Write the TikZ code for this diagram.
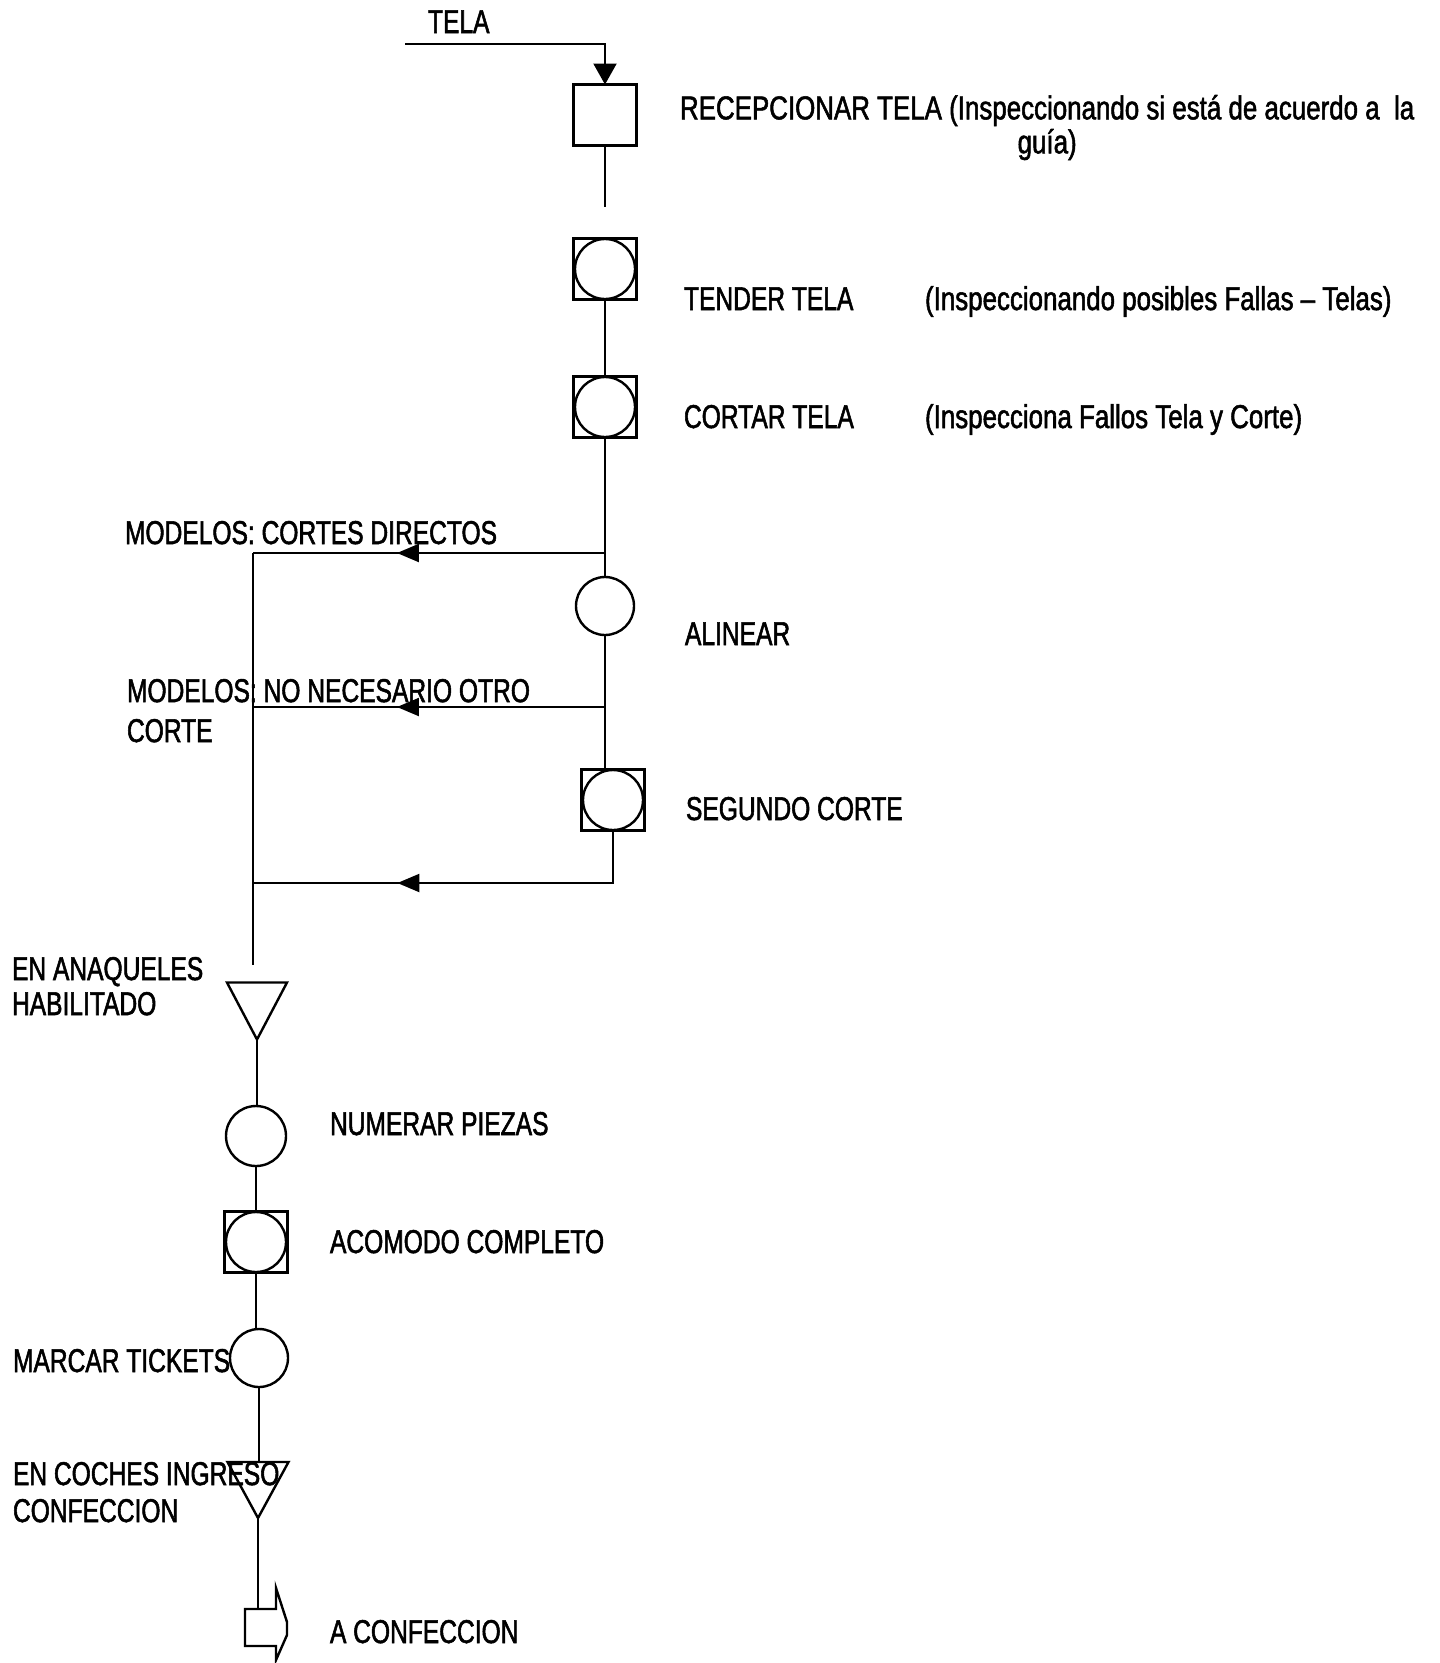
\documentclass[tikz,border=0pt]{standalone}
\usepackage{fontspec}
\setmainfont[FakeStretch=0.745, FakeBold=1.6]{Liberation Sans}
\newfontfamily\lcfont[Ligatures=TeX, FakeStretch=0.785, FakeBold=1.6]{Liberation Sans}
\usetikzlibrary{arrows.meta,decorations.markings}
\begin{document}
\begin{tikzpicture}[x=1pt,y=-1pt,
  lbl/.style={inner sep=0pt, outer sep=0pt, font=\fontsize{33}{35}\selectfont, anchor=base west},
  lclbl/.style={lbl, font=\lcfont\fontsize{33}{35}\selectfont},
  mlbl/.style={inner sep=0pt, outer sep=0pt, anchor=north west, font=\fontsize{33}{#1}\selectfont},
  opbox/.style={draw, line width=2.4pt, minimum width=63pt, minimum height=61pt, inner sep=0pt, outer sep=0pt},
  opinsp/.style={opbox, path picture={\draw[line width=2.4pt] (path picture bounding box.center) circle[radius=30pt];}},
  opcirc/.style={draw, circle, line width=2.4pt, minimum size=#1, inner sep=0pt, outer sep=0pt},
  trinode/.style={inner sep=0pt, outer sep=0pt, minimum width=60pt, minimum height=57pt},
  shp/.style={line width=2.4pt, line join=miter},
  conn/.style={line width=2.2pt},
  midarrow/.style={postaction={decorate}, decoration={markings, mark=at position #1 with {\arrow{Triangle[length=22pt,width=18pt]}}}}
]
\useasboundingbox[fill=white] (0,0) rectangle (1440,1663);

% ---------- upper column ----------
\node[opbox] (rec) at (605,115) {};
\node[opinsp] (tender) at (605,269) {};
\node[opinsp] (cortar) at (605,407) {};
\node[opcirc=58pt] (alinear) at (605,606) {};
\node[opinsp] (segundo) at (613,800) {};

% ---------- lower column ----------
\node[trinode] (tri1) at (257,1011) {};
\draw[shp] (tri1.north west) -- (tri1.north east) -- (tri1.south) -- cycle;
\node[opcirc=60pt] (numerar) at (256,1136) {};
\node[opinsp] (acomodo) at (256,1242) {};
\node[opcirc=58pt] (marcar) at (259,1358) {};
\node[trinode, minimum height=56pt, minimum width=61pt] (tri2) at (258,1490) {};
\draw[shp] (tri2.north west) -- (tri2.north east) -- (tri2.south) -- cycle;
\coordinate (confin) at (258,1609);
\draw[shp] (245,1609) -- (276,1609) -- (276,1588) -- (287,1622) -- (287,1635)
  -- (276,1660) -- (276,1646) -- (245,1646) -- cycle;

% ---------- connectors ----------
\coordinate (telaS) at (405,44);
\draw[conn, -{Triangle[length=21pt,width=23pt]}] (telaS) -| (rec.north);
\coordinate (recEnd) at (605,207);
\draw[conn] (rec.south) -- (recEnd);
\draw[conn] (tender.south) -- (cortar.north);
\draw[conn] (cortar.south) -- (alinear.north);
\draw[conn] (alinear.south) -- (alinear.south |- segundo.north);

\coordinate (b1) at (605,553);
\coordinate (l1) at (253,553);
\coordinate (b2) at (605,707);
\coordinate (l2) at (253,707);
\coordinate (l3) at (253,883);
\coordinate (lend) at (253,965);
\draw[conn, midarrow=0.591] (b1) -- (l1);
\draw[conn, midarrow=0.591] (b2) -- (l2);
\draw[conn, midarrow=0.65] (segundo.south) |- (l3);
\draw[conn] (l1) -- (lend);

\draw[conn] (tri1.south) -- (tri1.south |- numerar.north);
\draw[conn] (numerar.south) -- (acomodo.north);
\draw[conn] (acomodo.south) -- (acomodo.south |- marcar.north);
\draw[conn] (marcar.south) -- (marcar.south |- tri2.north);
\draw[conn] (tri2.south) -- (confin);

% ---------- labels ----------
\node[lbl] (tTela) at (428,33) {TELA};
\node[mlbl=34, align=center, font=\lcfont\fontsize{33}{34}\selectfont] (tRec) at (680,95) {RECEPCIONAR TELA (Inspeccionando si está de acuerdo a\ \ la\\ guía)};
\node[lbl] (tTender) at (684,310) {TENDER TELA};
\node[lclbl] (tTenderI) at (925,310) {(Inspeccionando posibles Fallas – Telas)};
\node[lbl] (tCortar) at (684,428) {CORTAR TELA};
\node[lclbl] (tCortarI) at (925,428) {(Inspecciona Fallos Tela y Corte)};
\node[lbl] (tMod1) at (125,544) {MODELOS: CORTES DIRECTOS};
\node[lbl] (tAlinear) at (685,645) {ALINEAR};
\node[mlbl=40, align=left] (tMod2) at (127,679) {MODELOS: NO NECESARIO OTRO\\ CORTE};
\node[lbl] (tSegundo) at (686,820) {SEGUNDO CORTE};
\node[mlbl=35, align=left] (tAnaq) at (12,957) {EN ANAQUELES\\ HABILITADO};
\node[lbl] (tNumerar) at (330,1135) {NUMERAR PIEZAS};
\node[lbl] (tAcomodo) at (330,1253) {ACOMODO COMPLETO};
\node[lbl] (tMarcar) at (13,1372) {MARCAR TICKETS};
\node[mlbl=37, align=left] (tCoches) at (13,1462) {EN COCHES INGRESO\\ CONFECCION};
\node[lbl] (tConf) at (330,1643) {A CONFECCION};
\end{tikzpicture}
\end{document}
